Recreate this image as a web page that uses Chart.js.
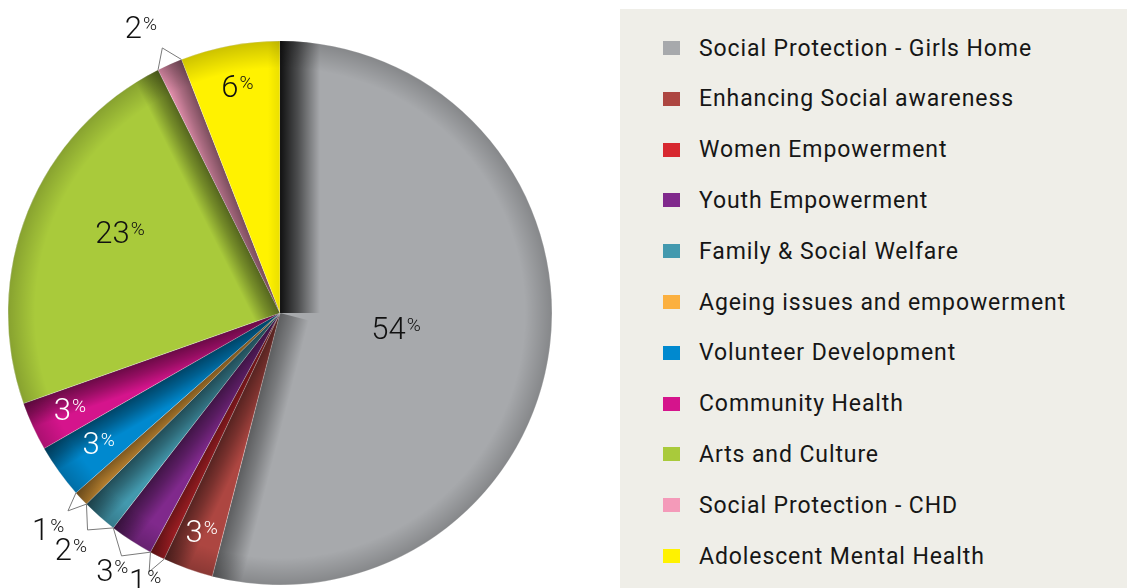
<!DOCTYPE html>
<html>
<head>
<meta charset="utf-8">
<script src="https://cdn.jsdelivr.net/npm/chart.js@4.4.0/dist/chart.umd.min.js"></script>
<style>
  body { margin: 0; background: #fff; width: 1127px; height: 588px; overflow: hidden; position: relative; font-family: Roboto, "DejaVu Sans", sans-serif; }
  #pieWrap { position: absolute; left: 0; top: 0; width: 620px; height: 588px; }
  #legend { position: absolute; left: 620px; top: 9px; width: 507px; height: 579px; background: #efeee8; }
  .item { position: absolute; left: 43px; height: 26px; display: flex; align-items: center; font-size: 23px; letter-spacing: 0.9px; color: #161616; white-space: nowrap; }
  .sw { width: 17px; height: 14px; margin-right: 19px; flex: none; }
</style>
</head>
<body>
<div id="pieWrap"><canvas id="chartPie" width="620" height="588"></canvas></div>
<div id="legend"></div>
<script>
const categorias = [
  "Social Protection - Girls Home",
  "Enhancing Social awareness",
  "Women Empowerment",
  "Youth Empowerment",
  "Family & Social Welfare",
  "Ageing issues and empowerment",
  "Volunteer Development",
  "Community Health",
  "Arts and Culture",
  "Social Protection - CHD",
  "Adolescent Mental Health"
];
// share of the pie
const valores = [54, 3, 0.9, 2.6, 2.1, 0.9, 3.2, 2.9, 23, 1.5, 5.9];
// printed percentages
const etiquetas = ["54", "3", "1", "3", "2", "1", "3", "3", "23", "2", "6"];
const colores = [
  "#a7a9ac", "#ad4641", "#d7282f", "#80298c", "#4399ae", "#fbb040",
  "#0089cf", "#d5148c", "#a9ca3b", "#f49ab9", "#fff200"
];

// label placement: r = fraction of radius (inside), out = px outside the rim
const posEtiquetas = [
  { r: 0.43, color: "#111111" },
  { r: 0.85, color: "#ffffff" },
  { out: 27 },
  { out: 35 },
  { out: 43 },
  { out: 45 },
  { r: 0.82, color: "#ffffff" },
  { r: 0.85, color: "#ffffff" },
  { r: 0.66, color: "#111111", shift: 5 },
  { out: 46, shift: -2 },
  { r: 0.85, color: "#111111" }
];

// leyenda
const legend = document.getElementById("legend");
legend.innerHTML = categorias
  .map(
    (c, i) => `
    <div class="item" style="top:${39 - 13 + i * 50.8}px">
      <span class="sw" style="background:${colores[i]}"></span>${c.replace("&", "&amp;")}
    </div>`
  )
  .join("");

function banda(ctx, x, y, a, lado, w, alpha, R) {
  const dx = Math.cos(a), dy = Math.sin(a);
  const nx = lado === "end" ? dy : -dy;
  const ny = lado === "end" ? -dx : dx;
  const g = ctx.createLinearGradient(x, y, x + nx * w, y + ny * w);
  g.addColorStop(0, `rgba(0,0,0,${alpha})`);
  g.addColorStop(0.45, `rgba(0,0,0,${alpha * 0.6})`);
  g.addColorStop(1, "rgba(0,0,0,0)");
  ctx.fillStyle = g;
  ctx.beginPath();
  ctx.moveTo(x, y);
  ctx.lineTo(x + dx * (R + 5), y + dy * (R + 5));
  ctx.lineTo(x + dx * (R + 5) + nx * w, y + dy * (R + 5) + ny * w);
  ctx.lineTo(x + nx * w, y + ny * w);
  ctx.closePath();
  ctx.fill();
}

const sombras = {
  id: "sombras",
  afterDatasetsDraw(chart) {
    const ctx = chart.ctx;
    chart.getDatasetMeta(0).data.forEach((arc, i) => {
      const { x, y, startAngle, endAngle, outerRadius } = arc.getProps(
        ["x", "y", "startAngle", "endAngle", "outerRadius"], true);
      ctx.save();
      ctx.beginPath();
      ctx.moveTo(x, y);
      ctx.arc(x, y, outerRadius, startAngle, endAngle);
      ctx.closePath();
      ctx.clip();
      if (i === 0) {
        banda(ctx, x, y, startAngle, "start", 40, 0.9, outerRadius);
        banda(ctx, x, y, endAngle, "end", 30, 0.45, outerRadius);
      } else if (i === 10) {
        banda(ctx, x, y, endAngle, "end", 12, 0.08, outerRadius);
      } else {
        banda(ctx, x, y, endAngle, "end", 26, 0.5, outerRadius);
      }
      // borde del circulo
      const rg = ctx.createRadialGradient(x, y, outerRadius * 0.9, x, y, outerRadius);
      rg.addColorStop(0, "rgba(0,0,0,0)");
      rg.addColorStop(1, "rgba(0,0,0,0.2)");
      ctx.fillStyle = rg;
      ctx.fillRect(x - outerRadius, y - outerRadius, outerRadius * 2, outerRadius * 2);
      ctx.restore();
    });
  }
};

function porcentaje(ctx, txt, cx, cy, color) {
  ctx.save();
  ctx.textAlign = "left";
  ctx.textBaseline = "alphabetic";
  ctx.fillStyle = color;
  ctx.font = "300 31px Roboto";
  const w1 = ctx.measureText(txt).width;
  ctx.font = "300 19px Roboto";
  const w2 = ctx.measureText("%").width;
  const left = cx - (w1 + w2 + 1) / 2;
  ctx.font = "300 31px Roboto";
  ctx.fillText(txt, left, cy + 11);
  ctx.font = "300 19px Roboto";
  ctx.fillText("%", left + w1 + 1, cy + 3);
  ctx.restore();
}

const rotulos = {
  id: "rotulos",
  afterDraw(chart) {
    const ctx = chart.ctx;
    chart.getDatasetMeta(0).data.forEach((arc, i) => {
      const { x, y, startAngle, endAngle, outerRadius } = arc.getProps(
        ["x", "y", "startAngle", "endAngle", "outerRadius"], true);
      const p = posEtiquetas[i];
      const mid = (startAngle + endAngle) / 2;
      const a = mid + ((p.shift || 0) * Math.PI) / 180;
      if (p.out !== undefined) {
        // triangulo guia
        const rc = outerRadius + 18;
        ctx.save();
        ctx.strokeStyle = "#7a7a7a";
        ctx.lineWidth = 1;
        ctx.beginPath();
        ctx.moveTo(x + Math.cos(startAngle) * outerRadius, y + Math.sin(startAngle) * outerRadius);
        ctx.lineTo(x + Math.cos(mid) * rc, y + Math.sin(mid) * rc);
        ctx.lineTo(x + Math.cos(endAngle) * outerRadius, y + Math.sin(endAngle) * outerRadius);
        ctx.stroke();
        ctx.restore();
        const r = outerRadius + p.out;
        porcentaje(ctx, etiquetas[i], x + Math.cos(a) * r, y + Math.sin(a) * r, "#111111");
      } else {
        const r = outerRadius * p.r;
        porcentaje(ctx, etiquetas[i], x + Math.cos(a) * r, y + Math.sin(a) * r, p.color);
      }
    });
  }
};

new Chart(document.getElementById("chartPie"), {
  type: "pie",
  data: {
    labels: categorias,
    datasets: [
      {
        data: valores,
        backgroundColor: colores,
        borderColor: "rgba(255,255,255,0.55)",
        borderWidth: 0.8
      }
    ]
  },
  options: {
    responsive: false,
    maintainAspectRatio: false,
    animation: false,
    radius: 272,
    layout: { padding: { left: 8, right: 68, top: 41, bottom: 3 } },
    plugins: {
      legend: { display: false },
      tooltip: { enabled: false }
    }
  },
  plugins: [sombras, rotulos]
});
</script>
</body>
</html>
